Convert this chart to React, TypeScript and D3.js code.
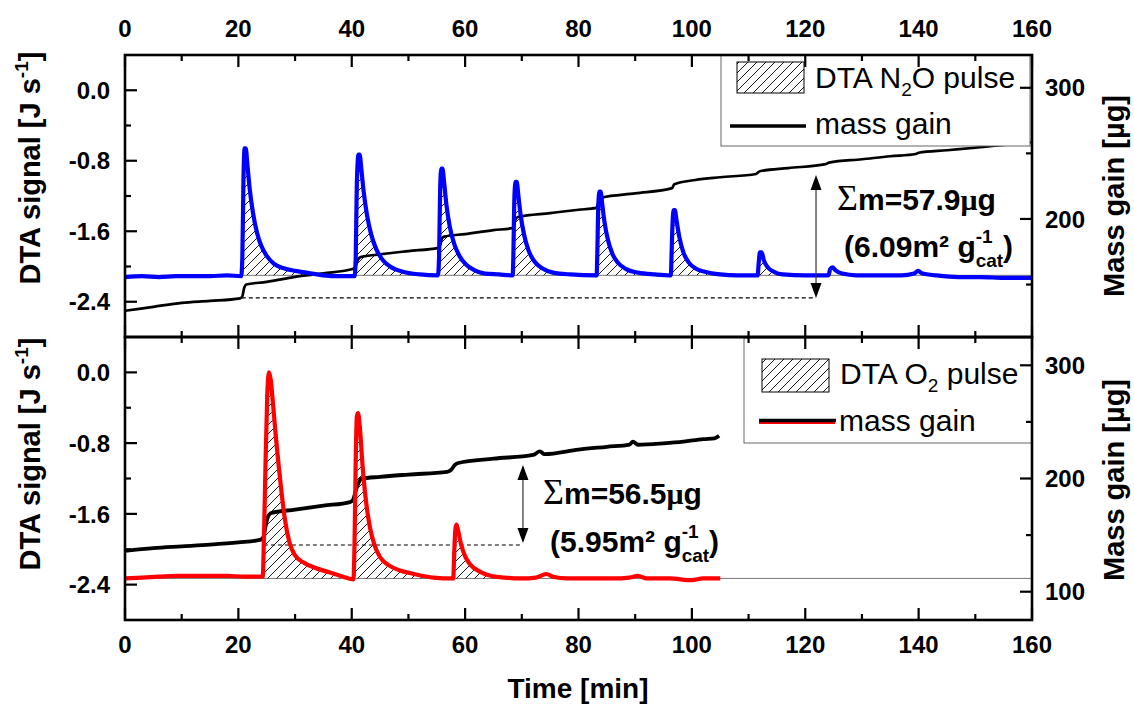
import React from "react";
import * as d3 from "d3";

type P = [number, number];

// ---------- axis ticks ----------
const timeTicks = [0, 20, 40, 60, 80, 100, 120, 140, 160];
const timeMinor = [10, 30, 50, 70, 90, 110, 130, 150];
const dtaTicks = [0.0, -0.8, -1.6, -2.4];
const dtaMinor = [-0.4, -1.2, -2.0];
const massTicksTop = [300, 200];
const massMinorTop = [250, 150];
const massTicksBot = [300, 200, 100];
const massMinorBot = [250, 150];

// ---------- top panel (N2O) ----------
const dtaN2O: P[] = [
  [0, -2.12], [3, -2.11], [6, -2.12], [9, -2.11], [12, -2.11], [15, -2.11], [18, -2.1], [20.5, -2.11],
  [20.7, -1.9], [20.9, -1.0], [21.1, -0.66], [21.3, -0.66], [21.6, -0.85], [22.0, -1.12], [22.6, -1.4], [23.3, -1.62], [24.0, -1.76], [25.0, -1.88], [26.3, -1.97], [28, -2.02], [30, -2.05], [32, -2.07], [35, -2.1], [38, -2.11], [40.5, -2.11],
  [40.7, -1.9], [40.9, -1.05], [41.2, -0.73], [41.4, -0.73], [41.7, -0.9], [42.1, -1.15], [42.7, -1.42], [43.4, -1.63], [44.3, -1.8], [45.5, -1.93], [47, -2.01], [49, -2.06], [52, -2.09], [55.2, -2.1],
  [55.4, -1.9], [55.6, -1.1], [55.8, -0.89], [56.0, -0.89], [56.3, -1.05], [56.7, -1.3], [57.3, -1.55], [58.1, -1.75], [59, -1.88], [60.2, -1.98], [61.6, -2.04], [63.5, -2.08], [66, -2.09], [68.4, -2.1],
  [68.5, -1.9], [68.7, -1.2], [68.9, -1.04], [69.1, -1.04], [69.4, -1.2], [69.8, -1.42], [70.4, -1.64], [71.2, -1.82], [72.2, -1.94], [73.6, -2.02], [75.5, -2.07], [78.5, -2.09], [83.2, -2.1],
  [83.3, -1.9], [83.5, -1.3], [83.7, -1.15], [83.9, -1.15], [84.2, -1.3], [84.6, -1.5], [85.2, -1.7], [86, -1.86], [87, -1.96], [88.4, -2.03], [90.5, -2.07], [93.5, -2.09], [96.3, -2.1],
  [96.4, -1.9], [96.6, -1.5], [96.8, -1.36], [97.0, -1.36], [97.3, -1.48], [97.8, -1.67], [98.5, -1.84], [99.4, -1.95], [100.6, -2.02], [102.3, -2.06], [105, -2.09], [108, -2.1], [111.6, -2.1],
  [111.8, -1.95], [112.0, -1.84], [112.3, -1.84], [112.7, -1.93], [113.4, -2.01], [114.5, -2.06], [116, -2.09], [120, -2.1], [124.1, -2.1],
  [124.4, -2.03], [124.8, -2.01], [125.3, -2.04], [126.5, -2.08], [129, -2.1], [133, -2.1], [137, -2.1], [139.2, -2.08], [139.9, -2.05], [140.7, -2.08], [143, -2.1], [147, -2.12], [151, -2.12], [155, -2.13], [160, -2.13],
];
const massN2O: P[] = [
  [0, 130], [5, 133], [10, 136], [15, 137.5], [20.3, 139.5], [20.7, 141], [21.0, 147], [21.4, 150], [25, 152], [30, 155.8], [35, 158.5], [40.3, 162],
  [40.7, 164], [41.1, 169], [41.6, 171], [45, 173], [50, 175.5], [55.3, 178], [55.6, 180], [55.9, 185], [56.3, 186.5], [60, 188.5], [65, 191.5], [68.3, 193],
  [68.6, 195], [68.9, 200], [69.3, 201.5], [75, 204.5], [80, 207], [83.1, 208.4], [83.4, 211], [83.7, 215], [84.1, 216.3], [90, 219.5], [96.5, 223.5], [96.9, 226.5],
  [100.6, 229.7], [105, 231.8], [111.3, 234.3], [112, 236.4], [117, 238.8], [123.6, 241.8], [124.2, 243], [130, 245.5], [135, 247.8], [139.5, 249.5], [140, 250.5],
  [145, 252.4], [150, 254.3], [153, 255.6], [160, 258.5],
];
const baselineN2O = -2.1;
const hatchN2O: P[] = [[20.5, 32], [40.5, 52], [55.2, 66], [68.4, 78.5], [83.2, 93.5], [96.3, 105], [111.6, 116]];
const annoN2O = { t0: 20.6, t: 121.9, from: 139.8, to: 233.5 };

// ---------- bottom panel (O2) ----------
const dtaO2: P[] = [
  [0, -2.33], [3, -2.32], [6, -2.31], [9, -2.3], [12, -2.3], [15, -2.3], [18, -2.3], [21, -2.31], [24.3, -2.31],
  [24.5, -1.9], [24.8, -1.0], [25.1, -0.25], [25.4, 0.0], [25.7, -0.08], [26.1, -0.35], [26.6, -0.72], [27.1, -1.05], [27.6, -1.35], [28.2, -1.66], [29.0, -1.92], [30.0, -2.07], [31.5, -2.15], [33.5, -2.21], [36, -2.26], [38.5, -2.31], [40.3, -2.34],
  [40.5, -1.9], [40.7, -1.0], [40.9, -0.5], [41.1, -0.46], [41.4, -0.6], [41.9, -1.05], [42.5, -1.45], [43.2, -1.75], [44.0, -1.95], [45, -2.09], [46.5, -2.18], [48.5, -2.24], [51, -2.28], [54.4, -2.32], [57.9, -2.33],
  [58.1, -2.0], [58.3, -1.76], [58.5, -1.72], [58.8, -1.8], [59.3, -1.95], [60, -2.08], [61, -2.18], [62.5, -2.25], [64.5, -2.3], [67, -2.32], [70, -2.33],
  [72.5, -2.32], [74.3, -2.28], [75.5, -2.31], [78, -2.33], [82, -2.33], [86, -2.33], [89, -2.32], [90.5, -2.3], [92, -2.33], [96, -2.33], [100, -2.35], [102, -2.33], [105, -2.33],
];
const massO2: P[] = [
  [0, 136], [5, 138.5], [10, 140], [15, 141.5], [20, 143.5], [23.8, 145.7], [24.4, 148], [24.8, 158], [25.2, 166], [25.8, 169.5], [30, 172.5], [35, 176], [39.7, 179.2],
  [40.2, 181], [40.7, 189], [41.2, 196], [41.7, 199.6], [45, 201.5], [50, 203.5], [56.8, 205.8], [57.5, 207.5], [58.2, 212], [58.8, 213.7], [65, 217.5], [72, 220.8],
  [73.2, 224], [74, 221.5], [80, 225.5], [85, 228], [89, 230], [89.6, 232.5], [90.5, 229.8], [95, 231], [98.5, 232.5], [102, 234.8], [104, 235.5], [104.8, 237.8],
];
const baselineO2 = -2.33;
const hatchO2: P[] = [[24.3, 40.3], [40.3, 57.9], [57.9, 67]];
const annoO2 = { t0: 24.5, t: 70.2, from: 143, to: 212 };

const FONT = "'Liberation Sans', Arial, Helvetica, sans-serif";
const SERIF = "'Liberation Serif', 'Times New Roman', serif";

const L = 125, R = 1032, T1 = 55, B1 = 337, T2 = 337, B2 = 620;

const fmt = (v: number) => (Math.abs(v) < 1e-9 ? "0.0" : v.toFixed(1));

function Arrow({ x, y1, y2 }: { x: number; y1: number; y2: number }) {
  const hl = 15, hw = 5.5;
  return (
    <g>
      <line x1={x} x2={x} y1={y1 + hl - 2} y2={y2 - hl + 2} stroke="#333" strokeWidth={1.2} />
      <path d={`M${x},${y1} L${x - hw},${y1 + hl} L${x + hw},${y1 + hl} Z`} fill="#000" />
      <path d={`M${x},${y2} L${x - hw},${y2 - hl} L${x + hw},${y2 - hl} Z`} fill="#000" />
    </g>
  );
}

export default function App() {
  const W = 1134, H = 706;
  const x = d3.scaleLinear().domain([0, 160]).range([L, R]);
  const yTL = d3.scaleLinear().domain([-2.8, 0.4]).range([B1, T1]);
  const yTR = d3.scaleLinear().domain([110, 325]).range([B1, T1]);
  const yBL = d3.scaleLinear().domain([-2.8, 0.4]).range([B2, T2]);
  const yBR = d3.scaleLinear().domain([75, 325]).range([B2, T2]);

  const lineGen = (ys: d3.ScaleLinear<number, number>) =>
    d3.line<P>().x((d) => x(d[0])).y((d) => ys(d[1])).curve(d3.curveMonotoneX);
  const areaGen = (ys: d3.ScaleLinear<number, number>, base: number) =>
    d3.area<P>().x((d) => x(d[0])).y0(ys(base)).y1((d) => ys(Math.max(d[1], base))).curve(d3.curveMonotoneX);

  const hatchPaths = (data: P[], ranges: P[], ys: d3.ScaleLinear<number, number>, base: number) =>
    ranges.map((r, i) => (
      <path key={i} d={areaGen(ys, base)(data.filter((d) => d[0] >= r[0] && d[0] <= r[1])) || ""} fill="url(#hatch)" stroke="none" />
    ));

  const xTicks = (y: number, dir: number) => (
    <g>
      {timeTicks.map((t) => (
        <line key={"M" + t} x1={x(t)} x2={x(t)} y1={y} y2={y + dir * 12} stroke="#000" strokeWidth={2.2} />
      ))}
      {timeMinor.map((t) => (
        <line key={"m" + t} x1={x(t)} x2={x(t)} y1={y} y2={y + dir * 6} stroke="#000" strokeWidth={2.2} />
      ))}
    </g>
  );

  const leftAxis = (ys: d3.ScaleLinear<number, number>) => (
    <g>
      {dtaTicks.map((v) => (
        <g key={v}>
          <line x1={L} x2={L + 12} y1={ys(v)} y2={ys(v)} stroke="#000" strokeWidth={2.2} />
          <text x={110} y={ys(v)} dy="0.36em" textAnchor="end" fontSize={24} fontWeight="bold">
            {fmt(v)}
          </text>
        </g>
      ))}
      {dtaMinor.map((v) => (
        <line key={v} x1={L} x2={L + 6} y1={ys(v)} y2={ys(v)} stroke="#000" strokeWidth={2.2} />
      ))}
    </g>
  );

  const rightAxis = (ys: d3.ScaleLinear<number, number>, major: number[], minor: number[]) => (
    <g>
      {major.map((v) => (
        <g key={v}>
          <line x1={R} x2={R - 12} y1={ys(v)} y2={ys(v)} stroke="#000" strokeWidth={2.2} />
          <text x={1045} y={ys(v)} dy="0.36em" textAnchor="start" fontSize={24} fontWeight="bold">
            {v}
          </text>
        </g>
      ))}
      {minor.map((v) => (
        <line key={v} x1={R} x2={R - 6} y1={ys(v)} y2={ys(v)} stroke="#000" strokeWidth={2.2} />
      ))}
    </g>
  );

  return (
    <svg width={W} height={H} style={{ position: "absolute", left: 0, top: 0, background: "#fff" }} fontFamily={FONT}>
      <defs>
        <pattern id="hatch" patternUnits="userSpaceOnUse" width={9} height={9}>
          <path d="M-1,1 L1,-1 M0,9 L9,0 M8,10 L10,8" stroke="#000" strokeWidth={0.9} />
        </pattern>
        <clipPath id="clipTop">
          <rect x={L} y={T1} width={R - L} height={B1 - T1} />
        </clipPath>
        <clipPath id="clipBot">
          <rect x={L} y={T2} width={R - L} height={B2 - T2} />
        </clipPath>
      </defs>
      <rect x={0} y={0} width={W} height={H} fill="#fff" />

      {/* ---------- top panel data ---------- */}
      <g clipPath="url(#clipTop)">
        <line x1={L} x2={R} y1={yTL(baselineN2O)} y2={yTL(baselineN2O)} stroke="#777" strokeWidth={1} />
        {hatchPaths(dtaN2O, hatchN2O, yTL, baselineN2O)}
        <line x1={x(annoN2O.t0)} x2={x(annoN2O.t)} y1={yTR(annoN2O.from)} y2={yTR(annoN2O.from)} stroke="#000" strokeWidth={1.2} strokeDasharray="4,3" />
        <path d={lineGen(yTR)(massN2O) || ""} fill="none" stroke="#000" strokeWidth={2.7} />
        <path d={lineGen(yTL)(dtaN2O) || ""} fill="none" stroke="#0000ff" strokeWidth={4.2} strokeLinejoin="round" />
      </g>
      <Arrow x={x(annoN2O.t)} y1={yTR(annoN2O.to)} y2={yTR(annoN2O.from)} />
      <text x={837} y={210} fontSize={30} fontWeight="bold">
        <tspan fontFamily={SERIF} fontWeight="normal" fontSize={36}>Σ</tspan>m=57.9<tspan fontFamily={SERIF}>μ</tspan>g
      </text>
      <text x={844} y={257} fontSize={30} fontWeight="bold">
        (6.09m² g<tspan fontSize={19} dy={-14}>-1</tspan>
        <tspan fontSize={19} dx={-17} dy={24}>cat</tspan>
        <tspan dy={-10}>)</tspan>
      </text>

      {/* top legend */}
      <rect x={721} y={T1} width={309} height={91} fill="#fff" stroke="#666" strokeWidth={1} />
      <rect x={737} y={62} width={67} height={31} fill="url(#hatch)" stroke="#000" strokeWidth={1} />
      <text x={815} y={88} fontSize={30}>
        DTA N<tspan fontSize={19} dy={8}>2</tspan>
        <tspan dy={-8}>O pulse</tspan>
      </text>
      <line x1={730} x2={806} y1={126} y2={126} stroke="#000" strokeWidth={3.5} />
      <text x={815} y={134} fontSize={30}>mass gain</text>

      {/* ---------- bottom panel data ---------- */}
      <g clipPath="url(#clipBot)">
        <line x1={L} x2={R} y1={yBL(baselineO2)} y2={yBL(baselineO2)} stroke="#777" strokeWidth={1} />
        {hatchPaths(dtaO2, hatchO2, yBL, baselineO2)}
        <line x1={x(annoO2.t0)} x2={x(annoO2.t)} y1={yBR(annoO2.from) + 2} y2={yBR(annoO2.from) + 2} stroke="#000" strokeWidth={1.2} strokeDasharray="4,3" />
        <path d={lineGen(yBR)(massO2) || ""} fill="none" stroke="#000" strokeWidth={3.8} />
        <path d={lineGen(yBL)(dtaO2) || ""} fill="none" stroke="#ff0000" strokeWidth={4.2} strokeLinejoin="round" />
      </g>
      <Arrow x={x(annoO2.t)} y1={yBR(annoO2.to)} y2={yBR(annoO2.from)} />
      <text x={543} y={504} fontSize={30} fontWeight="bold">
        <tspan fontFamily={SERIF} fontWeight="normal" fontSize={36}>Σ</tspan>m=56.5<tspan fontFamily={SERIF}>μ</tspan>g
      </text>
      <text x={550} y={552} fontSize={30} fontWeight="bold">
        (5.95m² g<tspan fontSize={19} dy={-14}>-1</tspan>
        <tspan fontSize={19} dx={-17} dy={24}>cat</tspan>
        <tspan dy={-10}>)</tspan>
      </text>

      {/* bottom legend */}
      <rect x={744} y={338} width={288} height={105} fill="#fff" stroke="#666" strokeWidth={1} />
      <rect x={762} y={359} width={67} height={33} fill="url(#hatch)" stroke="#000" strokeWidth={1} />
      <text x={840} y={384} fontSize={30}>
        DTA O<tspan fontSize={19} dy={8}>2</tspan>
        <tspan dy={-8}> pulse</tspan>
      </text>
      <line x1={759} x2={835} y1={422.5} y2={422.5} stroke="#ff0000" strokeWidth={3} />
      <line x1={759} x2={836} y1={420.5} y2={420.5} stroke="#000" strokeWidth={3.5} />
      <text x={839} y={431} fontSize={30}>mass gain</text>

      {/* ---------- axes ---------- */}
      <rect x={L} y={T1} width={R - L} height={B1 - T1} fill="none" stroke="#000" strokeWidth={2.6} />
      <rect x={L} y={T2} width={R - L} height={B2 - T2} fill="none" stroke="#000" strokeWidth={2.6} />
      {xTicks(T1, 1)}
      {xTicks(B1, -1)}
      {xTicks(T2, 1)}
      {xTicks(B2, -1)}
      {timeTicks.map((t) => (
        <text key={"tt" + t} x={x(t)} y={37} textAnchor="middle" fontSize={24} fontWeight="bold">{t}</text>
      ))}
      {timeTicks.map((t) => (
        <text key={"bt" + t} x={x(t)} y={653} textAnchor="middle" fontSize={24} fontWeight="bold">{t}</text>
      ))}
      {leftAxis(yTL)}
      {leftAxis(yBL)}
      {rightAxis(yTR, massTicksTop, massMinorTop)}
      {rightAxis(yBR, massTicksBot, massMinorBot)}

      {/* axis titles */}
      <text transform="translate(40,168) rotate(-90)" textAnchor="middle" fontSize={29} fontWeight="bold">
        DTA signal [J s<tspan fontSize={19} dy={-12}>-1</tspan>
        <tspan dy={12}>]</tspan>
      </text>
      <text transform="translate(40,454) rotate(-90)" textAnchor="middle" fontSize={29} fontWeight="bold">
        DTA signal [J s<tspan fontSize={19} dy={-12}>-1</tspan>
        <tspan dy={12}>]</tspan>
      </text>
      <text transform="translate(1124,196) rotate(-90)" textAnchor="middle" fontSize={29} fontWeight="bold">
        Mass gain [µg]
      </text>
      <text transform="translate(1124,480) rotate(-90)" textAnchor="middle" fontSize={29} fontWeight="bold">
        Mass gain [µg]
      </text>
      <text x={578} y={698} textAnchor="middle" fontSize={28} fontWeight="bold">
        Time [min]
      </text>
    </svg>
  );
}
